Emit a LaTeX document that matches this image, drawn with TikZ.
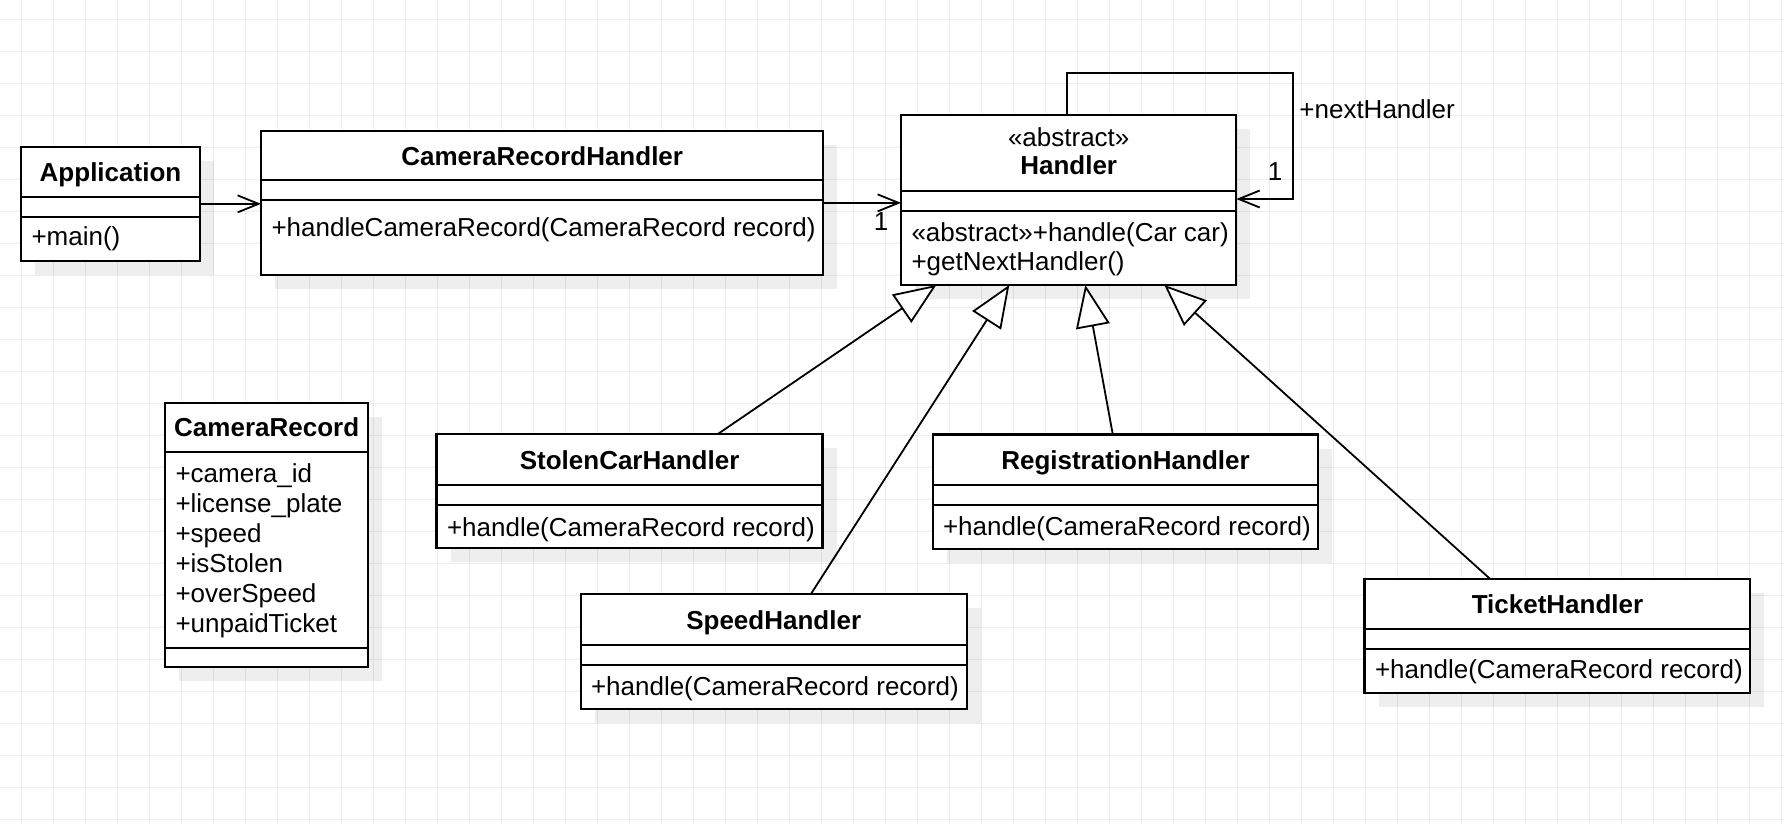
\documentclass[tikz,border=0pt]{standalone}
\usepackage{fontspec}
\setmainfont{Liberation Sans}
\usetikzlibrary{arrows.meta}
\definecolor{gridc}{RGB}{236,236,236}
\tikzset{
  txt/.style={font=\fontsize{26}{30}\selectfont, inner sep=0pt, outer sep=0pt},
  ttl/.style={txt, font=\fontsize{26}{30}\selectfont\bfseries},
  classbox/.style={draw=black, fill=white, line width=2.3pt, inner sep=0pt, outer sep=0pt, rectangle},
  divider/.style={draw=black, line width=2.3pt},
  shadowfill/.style={fill=black, opacity=0.065},
  assoc/.style={draw=black, line width=1.8pt, -{Straight Barb[length=21pt, width=17pt]}},
  inherit/.style={draw=black, line width=1.8pt, -{Triangle[length=42pt, width=34pt, fill=white]}},
  gridline/.style={draw=gridc, line width=1pt}
}
\newcommand{\umlbox}[7]{%
  \fill[shadowfill] (#2+14,#3+14) rectangle (#4+14,#5+14);
  \node[classbox, minimum width={#4-#2}, minimum height={#5-#3}] (#1) at ({(#2+#4)/2},{(#3+#5)/2}) {};
  \draw[divider] (#2,#6) -- (#4,#6) (#2,#7) -- (#4,#7);
}
\begin{document}
\begin{tikzpicture}[x=1pt,y=-1pt]
\useasboundingbox (0,0) rectangle (1784,823);
\fill[white] (0,0) rectangle (1784,823);
\foreach \k in {0,...,55} { \draw[gridline] (21.3+32*\k,0) -- (21.3+32*\k,823); }
\foreach \k in {0,...,25} { \draw[gridline] (0,19.3+32*\k) -- (1784,19.3+32*\k); }

% classes
\umlbox{app}{20.7}{146.7}{200.3}{261}{196.7}{216.7}
\umlbox{crh}{261}{131}{823.3}{274.7}{180.3}{200.3}
\umlbox{handler}{901}{115}{1236.3}{285}{191}{211.3}
\umlbox{rec}{165}{402.7}{368.3}{666.7}{452.3}{648.3}
\umlbox{stolen}{436.6}{434.3}{822.5}{548.3}{485}{505}
\umlbox{reg}{932.7}{434.5}{1318.3}{548.7}{485}{505}
\umlbox{speed}{580.7}{594.3}{966.7}{709}{645}{665}
\umlbox{ticket}{1364.6}{579}{1750.3}{692.7}{629}{649}

% texts
\node[ttl, anchor=base] (appT) at (110.5,181) {Application};
\node[txt, anchor=base west] (appM) at (31.5,245.5) {+main()};

\node[ttl, anchor=base] (crhT) at (542.2,165) {CameraRecordHandler};
\node[txt, anchor=base west] (crhM) at (271.5,236.5) {+handleCameraRecord(CameraRecord record)};

\node[txt, anchor=base] (hS) at (1068.7,146) {«abstract»};
\node[ttl, anchor=base] (hT) at (1068.7,174.3) {Handler};
\node[txt, anchor=base west] (hM1) at (911.5,241) {«abstract»+handle(Car car)};
\node[txt, anchor=base west] (hM2) at (911.5,270) {+getNextHandler()};

\node[ttl, anchor=base] (recT) at (266.7,436.8) {CameraRecord};
\node[txt, anchor=base west] (recA1) at (175.5,482.3) {+camera\_id};
\node[txt, anchor=base west] (recA2) at (175.5,512.3) {+license\_plate};
\node[txt, anchor=base west] (recA3) at (175.5,542.3) {+speed};
\node[txt, anchor=base west] (recA4) at (175.5,572.3) {+isStolen};
\node[txt, anchor=base west] (recA5) at (175.5,602.3) {+overSpeed};
\node[txt, anchor=base west] (recA6) at (175.5,632.3) {+unpaidTicket};

\node[ttl, anchor=base] (stT) at (629.6,469) {StolenCarHandler};
\node[txt, anchor=base west] (stM) at (447,536) {+handle(CameraRecord record)};

\node[ttl, anchor=base] (regT) at (1125.5,469) {RegistrationHandler};
\node[txt, anchor=base west] (regM) at (943,535) {+handle(CameraRecord record)};

\node[ttl, anchor=base] (spT) at (773.7,629) {SpeedHandler};
\node[txt, anchor=base west] (spM) at (591,695.3) {+handle(CameraRecord record)};

\node[ttl, anchor=base] (tkT) at (1557.5,613.3) {TicketHandler};
\node[txt, anchor=base west] (tkM) at (1375,678.3) {+handle(CameraRecord record)};

% associations
\draw[assoc] (app.east) -- (app.east -| crh.west);
\draw[assoc] (crh.east) -- (crh.east -| handler.west);
\node[txt, anchor=base] (m1) at (881,230) {1};

\coordinate (loopTR) at (1293.3,73);
\coordinate (loopBR) at (1293.3,199);
\draw[assoc] ([xshift=-2pt]handler.north) |- (loopTR) |- (handler.east |- loopBR);
\node[txt, anchor=base] (m2) at (1275,180) {1};
\node[txt, anchor=base west] (nh) at (1299.4,118.3) {+nextHandler};

% generalizations
\draw[inherit] ([xshift=280.8pt]stolen.north west) -- ([xshift=35.3pt]handler.south west);
\draw[inherit] ([xshift=230pt]speed.north west) -- ([xshift=108.3pt]handler.south west);
\draw[inherit] ([xshift=180.1pt]reg.north west) -- ([xshift=184.3pt]handler.south west);
\draw[inherit] ([xshift=125.6pt]ticket.north west) -- ([xshift=263.3pt]handler.south west);
\end{tikzpicture}
\end{document}
